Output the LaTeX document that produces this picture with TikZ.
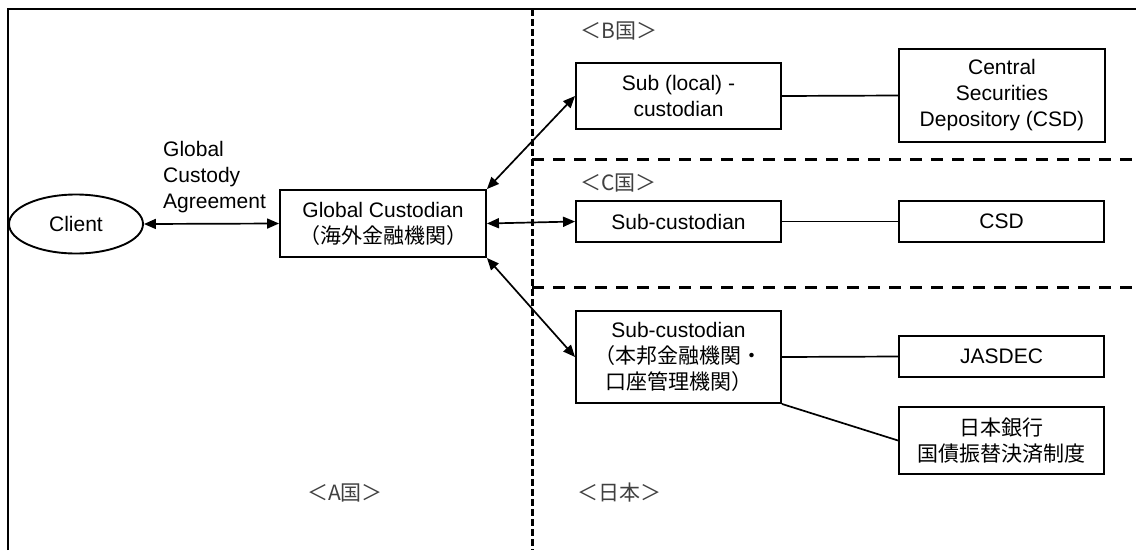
\documentclass[tikz,border=0pt]{standalone}
\usepackage{fontspec}
\setmainfont{Liberation Sans}
\newfontfamily\jpfont{Noto Sans CJK JP}
\usetikzlibrary{arrows.meta,shapes.geometric}
\newcommand\myfs{\fontsize{21}{26}\selectfont}
\begin{document}
\begin{tikzpicture}[x=1pt,y=-1pt,
  box/.style={draw, line width=1.9pt, inner sep=0pt, align=center, font=\myfs, minimum width=205pt},
  lbl/.style={inner sep=0pt, font=\myfs\jpfont, text=black!75},
  conn/.style={line width=1.7pt},
  dbl/.style={line width=1.7pt, {Triangle[length=12pt,width=10pt]}-{Triangle[length=12pt,width=10pt]}},
  vdash/.style={line width=3pt, dash pattern=on 7pt off 3pt},
  hdash/.style={line width=3pt, dash pattern=on 12pt off 9pt}]
\useasboundingbox (0,0) rectangle (1136,550);
% frame
\draw[line width=1.6pt] (8,550) -- (8,9) -- (1136,9);
% dashed separators
\draw[vdash] (532,9) -- (532,550);
\draw[hdash] (532,159) -- (1136,159);
\draw[hdash] (532,287) -- (1136,287);
% nodes
\node[draw, ellipse, line width=1.9pt, minimum width=134pt, minimum height=59pt, inner sep=0pt, font=\myfs] (client) at (76,224) {Client};
\node[box, minimum width=206pt, minimum height=67pt] (gc) at (383,223.5) {Global Custodian\\{\jpfont （海外金融機関）}};
\node[box, minimum height=66pt] (subB) at (678.5,96) {Sub (local) -\\custodian};
\node[box, minimum width=206pt, minimum height=93pt] (csdB) at (1002,95.5) {Central\\Securities\\Depository (CSD)};
\node[box, minimum height=41pt] (subC) at (678.5,221.5) {Sub-custodian};
\node[box, minimum height=41pt] (csdC) at (1001.5,221.5) {CSD};
\node[box, minimum height=92pt] (subJ) at (678.5,357) {Sub-custodian\\{\jpfont （本邦金融機関・}\\{\jpfont 口座管理機関）}};
\node[box, minimum height=41pt] (jasdec) at (1001.5,356.5) {JASDEC};
\node[box, minimum height=67pt] (boj) at (1001.5,440.5) {\jpfont 日本銀行\\\jpfont 国債振替決済制度};
% labels
\node[inner sep=0pt, align=left, anchor=west, font=\myfs] (gca) at (163,177) {Global\\Custody\\Agreement};
\node[lbl, anchor=west] (lB) at (580,31) {＜B国＞};
\node[lbl, anchor=west] (lC) at (580,183) {＜C国＞};
\node[lbl] (lA) at (345,493) {＜A国＞};
\node[lbl, anchor=west] (lJ) at (577,493) {＜日本＞};
% connectors
\draw[dbl] (client.east) -- (gc.west);
\draw[dbl] (gc.north east) -- (subB.west);
\draw[dbl] (gc.east) -- (subC.west);
\draw[dbl] (gc.south east) -- (subJ.west);
\draw[conn] (subB.east) -- (csdB.west);
\draw[conn] (subC.east) -- (csdC.west);
\draw[conn] (subJ.east) -- (jasdec.west);
\draw[conn] (subJ.south east) -- (boj.west);
\end{tikzpicture}
\end{document}
